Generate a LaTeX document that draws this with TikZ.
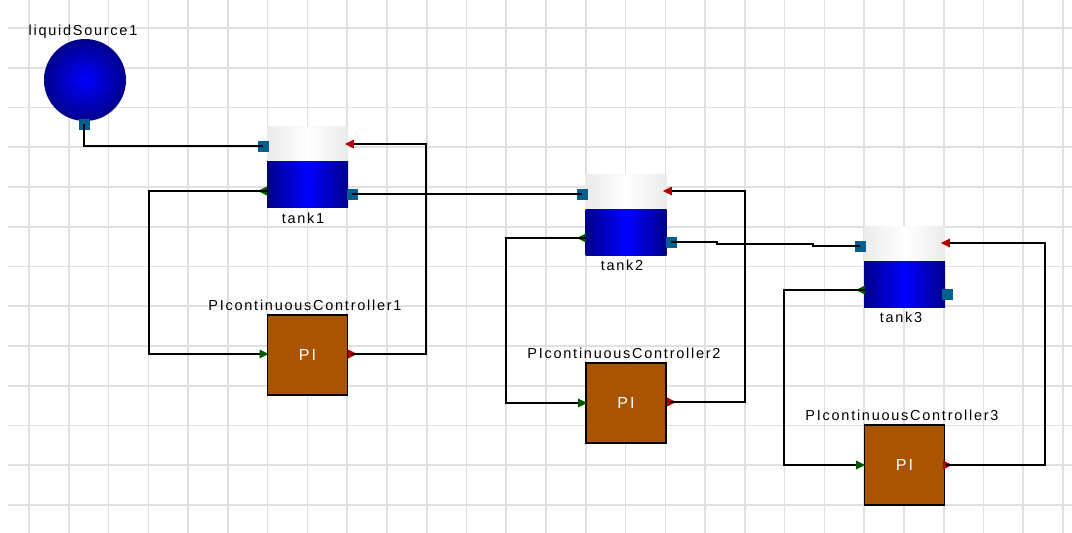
\documentclass[tikz,border=0pt]{standalone}
\usepackage{fontspec}
\setmainfont[LetterSpace=12]{Liberation Sans}
\usetikzlibrary{positioning,shapes.geometric}
\definecolor{gridgray}{HTML}{E0E0E0}
\definecolor{darkblue}{HTML}{00008C}
\definecolor{portblue}{HTML}{005F8F}
\definecolor{pibrown}{HTML}{A85400}
\definecolor{portred}{HTML}{B00000}
\definecolor{portgreen}{HTML}{005A00}
\tikzset{
gridline/.style={gridgray,line width=1.6pt},
wire/.style={black,line width=1.2pt},
source/.style={circle,inner sep=0,minimum size=82pt,inner color=blue,outer color=darkblue},
tanktop/.style={inner sep=0,minimum width=81pt,minimum height=35pt,left color=black!8,right color=black!8,middle color=white},
tankbottom/.style={inner sep=0,minimum width=81pt,minimum height=46pt,left color=darkblue,right color=darkblue,middle color=blue},
controller/.style={draw,line width=1.2pt,fill=pibrown,inner sep=0,minimum size=80pt,text=white,font=\fontsize{16}{18}\selectfont},
label/.style={inner sep=0,font=\fontsize{14.5}{16}\selectfont},
squareport/.style={fill=portblue,inner sep=0,minimum size=11pt},
markport/.style={isosceles triangle,isosceles triangle stretches,inner sep=0,minimum height=9pt,minimum width=9pt},
redleft/.style={markport,fill=portred,shape border rotate=180},
redright/.style={markport,fill=portred},
greenleft/.style={markport,fill=portgreen,shape border rotate=180},
greenright/.style={markport,fill=portgreen}
}
\begin{document}
\begin{tikzpicture}[x=1pt,y=-1pt]
\useasboundingbox[fill=white] (0,0) rectangle (1072,533);
% grid
\foreach \i in {0,...,26} \draw[gridline] (29+39.77*\i,0) -- (29+39.77*\i,533);
\foreach \j in {0,...,12} \draw[gridline] (8,28+39.75*\j) -- (1072,28+39.75*\j);

% source
\node[source] (source1) at (85,80) {};
\node[label] (source1label) at (83,32) {liquidSource1};
\node[squareport] (source1out) at (84,124) {};

% tanks
\node[tanktop] (tank1top) at (307.5,143.5) {};
\node[tankbottom,below=0pt of tank1top] (tank1bottom) {};
\node[label] (tank1label) at (303,218) {tank1};
\node[squareport] (tank1in) at (263,146) {};
\node[squareport] (tank1out) at (352,194) {};
\node[redleft] (tank1red) at (351,144) {};
\node[greenleft] (tank1green) at (264,191) {};

\node[tanktop] (tank2top) at (626,191.5) {};
\node[tankbottom,below=0pt of tank2top] (tank2bottom) {};
\node[label] (tank2label) at (622,265) {tank2};
\node[squareport] (tank2in) at (582,194) {};
\node[squareport] (tank2out) at (671,242) {};
\node[redleft] (tank2red) at (669,191) {};
\node[greenleft] (tank2green) at (583,238) {};

\node[tanktop] (tank3top) at (904.5,243.5) {};
\node[tankbottom,below=0pt of tank3top] (tank3bottom) {};
\node[label] (tank3label) at (901,317) {tank3};
\node[squareport] (tank3in) at (860,246) {};
\node[squareport] (tank3out) at (947,294) {};
\node[redleft] (tank3red) at (947,243) {};
\node[greenleft] (tank3green) at (862,290) {};

% controllers
\node[controller] (ctrl1) at (307.5,355) {PI};
\node[label] (ctrl1label) at (305,305) {PIcontinuousController1};
\node[greenright] (ctrl1in) at (262.5,354) {};
\node[redright] (ctrl1out) at (351,354) {};

\node[controller] (ctrl2) at (626,403) {PI};
\node[label] (ctrl2label) at (624,353) {PIcontinuousController2};
\node[greenright] (ctrl2in) at (581,403) {};
\node[redright] (ctrl2out) at (670,402) {};

\node[controller] (ctrl3) at (904.5,465) {PI};
\node[label] (ctrl3label) at (902,415) {PIcontinuousController3};
\node[greenright] (ctrl3in) at (859,465) {};
\node[redright] (ctrl3out) at (946,465) {};

% bends
\coordinate (bend1r) at (426,0);
\coordinate (bend1l) at (149,0);
\coordinate (bend2r) at (745,0);
\coordinate (bend2l) at (506,0);
\coordinate (bend3r) at (1045,0);
\coordinate (bend3l) at (784,0);
\coordinate (jog1) at (717,244);
\coordinate (jog2) at (813,246);

% wires
\draw[wire] (source1out.center) |- (tank1in.center);
\draw[wire] (tank1out.center) -- (tank2in.center);
\draw[wire] (tank2out.center) -| (jog1) -| (jog2) -- (tank3in.center);
\draw[wire] (ctrl1out.center) -- (ctrl1out.center -| bend1r) -- (tank1red.east -| bend1r) -- (tank1red.east);
\draw[wire] (tank1green.east) -- (tank1green.east -| bend1l) -- (ctrl1in.west -| bend1l) -- (ctrl1in.west);
\draw[wire] (ctrl2out.center) -- (ctrl2out.center -| bend2r) -- (tank2red.east -| bend2r) -- (tank2red.east);
\draw[wire] (tank2green.east) -- (tank2green.east -| bend2l) -- (ctrl2in.west -| bend2l) -- (ctrl2in.west);
\draw[wire] (ctrl3out.center) -- (ctrl3out.center -| bend3r) -- (tank3red.east -| bend3r) -- (tank3red.east);
\draw[wire] (tank3green.east) -- (tank3green.east -| bend3l) -- (ctrl3in.west -| bend3l) -- (ctrl3in.west);
\end{tikzpicture}
\end{document}
